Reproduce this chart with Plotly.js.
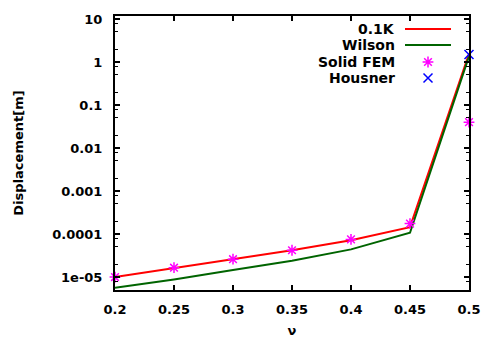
<!DOCTYPE html>
<html>
<head>
<meta charset="utf-8">
<script src="https://cdn.plot.ly/plotly-3.0.1.min.js"></script>
<style>html,body{margin:0;padding:0;background:#fff;}#chart{width:484px;height:338px;}</style>
</head>
<body>
<div id="chart"></div>
<script>
// ---- data ----
const nu = [0.2, 0.25, 0.3, 0.35, 0.4, 0.45, 0.5];
const k01 = [1.0e-5, 1.6e-5, 2.6e-5, 4.2e-5, 7.2e-5, 1.45e-4, 1.55];
const wilson = [5.6e-6, 8.8e-6, 1.45e-5, 2.4e-5, 4.4e-5, 1.07e-4, 1.35];
const solidFEM = [1.0e-5, 1.65e-5, 2.6e-5, 4.2e-5, 7.5e-5, 1.75e-4, 0.04];
const housnerX = [0.5];
const housner = [1.5];
const seriesNames = ["0.1K", "Wilson", "Solid FEM", "Housner"];
const xTicks = [0.2, 0.25, 0.3, 0.35, 0.4, 0.45, 0.5];
const xTickText = ["0.2", "0.25", "0.3", "0.35", "0.4", "0.45", "0.5"];
const yTicks = [10, 1, 0.1, 0.01, 0.001, 0.0001, 0.00001];
const yTickText = ["10", "1", "0.1", "0.01", "0.001", "0.0001", "1e-05"];
const yMinor = [];
[1e-6, 1e-5, 1e-4, 1e-3, 1e-2, 1e-1, 1].forEach(d => [2, 5, 8].forEach(k => yMinor.push(d * k)));

// ---- styles ----
const font = {family: "DejaVu Sans", size: 13, color: "#000", weight: "bold"};
const legFont = {family: "DejaVu Sans", size: 14, color: "#000", weight: "bold"};
const RED = "#ff0000", GREEN = "#006400", MAG = "#ff00ff", BLUE = "#0000ff";

// legend geometry (pixel-like hidden axes)
const legX = 397, legSample = [405, 451], legMarkX = 428;
const legY = [29, 45, 62, 78];

const traces = [
  {x: nu, y: k01, mode: "lines", line: {color: RED, width: 2}, showlegend: false},
  {x: nu, y: wilson, mode: "lines", line: {color: GREEN, width: 2}, showlegend: false},
  {x: nu, y: solidFEM, mode: "markers", marker: {symbol: "asterisk-open", size: 9, color: MAG, line: {color: MAG, width: 1.5}}, showlegend: false, cliponaxis: false},
  {x: housnerX, y: housner, mode: "markers", marker: {symbol: "x-thin-open", size: 9, color: BLUE, line: {color: BLUE, width: 1.5}}, showlegend: false, cliponaxis: false},
  // legend samples on hidden pixel axes
  {x: legSample, y: [legY[0], legY[0]], xaxis: "x2", yaxis: "y2", mode: "lines", line: {color: RED, width: 2}, showlegend: false, hoverinfo: "skip"},
  {x: legSample, y: [legY[1], legY[1]], xaxis: "x2", yaxis: "y2", mode: "lines", line: {color: GREEN, width: 2}, showlegend: false, hoverinfo: "skip"},
  {x: [legMarkX], y: [legY[2]], xaxis: "x2", yaxis: "y2", mode: "markers", marker: {symbol: "asterisk-open", size: 9, color: MAG, line: {color: MAG, width: 1.5}}, showlegend: false, hoverinfo: "skip"},
  {x: [legMarkX], y: [legY[3]], xaxis: "x2", yaxis: "y2", mode: "markers", marker: {symbol: "x-thin-open", size: 9, color: BLUE, line: {color: BLUE, width: 1.5}}, showlegend: false, hoverinfo: "skip"}
];

const annotations = seriesNames.map((n, i) => ({
  text: n, x: legX, y: legY[i], xref: "x2", yref: "y2", xanchor: "right", yanchor: "middle",
  showarrow: false, font: legFont
}));

const layout = {
  width: 484, height: 338,
  margin: {l: 115, r: 15, t: 16, b: 48},
  paper_bgcolor: "#fff", plot_bgcolor: "#fff",
  font: font,
  showlegend: false,
  xaxis: {
    range: [0.2, 0.5], tickmode: "array", tickvals: xTicks, ticktext: xTickText,
    ticks: "inside", ticklen: 5, tickwidth: 1.5, tickcolor: "#000",
    showline: true, linecolor: "#000", linewidth: 2, mirror: "ticks",
    showgrid: false, zeroline: false, ticklabelstandoff: 6,
    tickfont: font,
    title: {text: "ν", font: font, standoff: 10}
  },
  yaxis: {
    type: "log", range: [Math.log10(5e-6), 1.07], tickmode: "array", tickvals: yTicks, ticktext: yTickText,
    ticks: "inside", ticklen: 5, tickwidth: 1.5, tickcolor: "#000",
    minor: {tickmode: "array", tickvals: yMinor, ticks: "inside", ticklen: 3, tickwidth: 1, tickcolor: "#000"},
    showline: true, linecolor: "#000", linewidth: 2, mirror: "ticks",
    showgrid: false, zeroline: false, ticklabelstandoff: 8,
    tickfont: font,
    title: {text: "Displacement[m]", font: font, standoff: 26}
  },
  xaxis2: {range: [115, 469], overlaying: "x", anchor: "y2", visible: false, fixedrange: true},
  yaxis2: {range: [290, 16], overlaying: "y", anchor: "x2", visible: false, fixedrange: true},
  annotations: annotations
};

Plotly.newPlot("chart", traces, layout, {staticPlot: true, displayModeBar: false});
</script>
</body>
</html>
